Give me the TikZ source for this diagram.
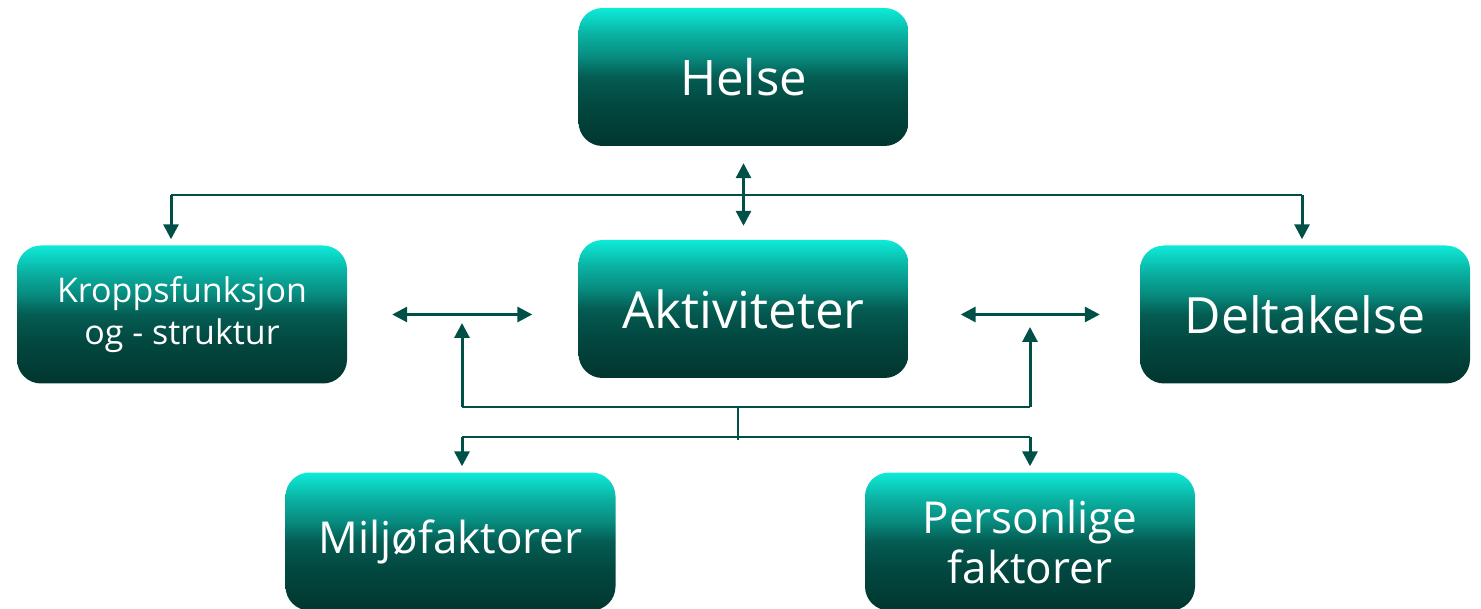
\documentclass[tikz,border=0pt]{standalone}
\usepackage{fontspec}
\setsansfont{Open Sans}
\usetikzlibrary{arrows.meta}
\definecolor{boxtop}{RGB}{14,234,216}
\definecolor{boxhigh}{RGB}{10,175,160}
\definecolor{boxupper}{RGB}{8,140,128}
\definecolor{boxmid}{RGB}{4,92,82}
\definecolor{boxlow}{RGB}{2,72,64}
\definecolor{boxbot}{RGB}{1,54,47}
\definecolor{linkcol}{RGB}{0,80,72}
\pgfdeclareverticalshading{boxfade}{100bp}{color(0bp)=(boxbot); color(25bp)=(boxbot);
  color(40bp)=(boxlow); color(50bp)=(boxmid); color(57.5bp)=(boxupper);
  color(65bp)=(boxhigh); color(75bp)=(boxtop); color(100bp)=(boxtop)}
\begin{document}
\begin{tikzpicture}[x=1pt,y=-1pt,
    box/.style={rounded corners=24pt, minimum width=330pt, minimum height=138pt,
      shading=boxfade, text=white, align=center, font=\sffamily},
    link/.style={draw=linkcol, line width=2pt},
    tips/.style={draw=linkcol, line width=3pt, -{Triangle[length=15pt,width=15pt]}},
    twotips/.style={tips, {Triangle[length=15pt,width=15pt]}-{Triangle[length=15pt,width=15pt]}}]
      \useasboundingbox (0,0) rectangle (1481,609);
      \node [box, font=\sffamily\fontsize{49}{58}\selectfont] (helse) at (743.5,77) {Helse};
      \node [box, font=\sffamily\fontsize{34}{42}\selectfont] (kropp) at (182,314.5) {Kroppsfunksjon\\og - struktur};
      \node [box, font=\sffamily\fontsize{51}{56}\selectfont] (aktiv) at (743.5,309) {Aktiviteter};
      \node [box, font=\sffamily\fontsize{50}{56}\selectfont] (delta) at (1305,314.5) {Deltakelse};
      \node [box, font=\sffamily\fontsize{44}{50}\selectfont] (miljo) at (450.5,541.5) {Miljøfaktorer};
      \node [box, font=\sffamily\fontsize{44}{50}\selectfont] (person) at (1030,541.5) {Personlige\\faktorer};
      \coordinate (topl) at (171,195);
      \coordinate (topr) at (1302,195);
      \coordinate (lowl) at (462,407);
      \coordinate (lowr) at (1030,407);
      \coordinate (stem) at (738,407);
      \coordinate (basel) at (462,437);
      \coordinate (baser) at (1030,437);
      \draw [link] (topl) -- (topr);
      \draw [tips] (topl) -- ([yshift=6pt] topl |- kropp.north);
      \draw [tips] (topr) -- ([yshift=6pt] topr |- delta.north);
      \draw [twotips] ([yshift=-17pt] helse.south) -- ([yshift=14pt] aktiv.north);
      \draw [twotips] ([xshift=45pt] kropp.east) -- ([xshift=-46pt] aktiv.west |- kropp);
      \draw [twotips] ([xshift=52pt] aktiv.east |- delta) -- ([xshift=-40pt] delta.west);
      \draw [link] (lowl) -- (lowr);
      \draw [tips] (lowl) -- (462,323);
      \draw [tips] (lowr) -- (1030,327);
      \draw [link] (stem) -- (738,440);
      \draw [link] (basel) -- (baser);
      \draw [tips] (basel) -- ([yshift=6pt] basel |- miljo.north);
      \draw [tips] (baser) -- ([yshift=6pt] baser |- person.north);
      \end{tikzpicture}
\end{document}
